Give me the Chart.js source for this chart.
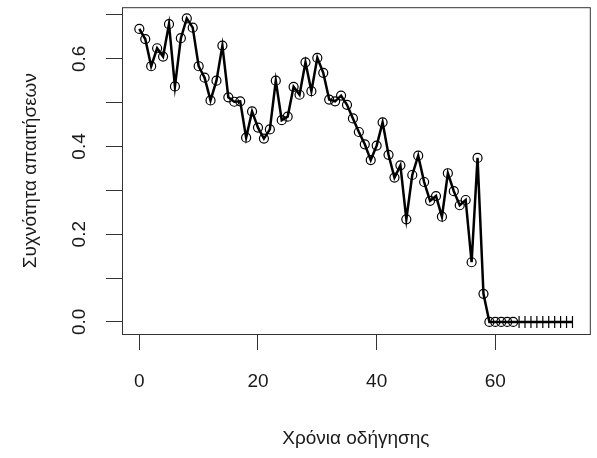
<!DOCTYPE html>
<html>
<head>
<meta charset="utf-8">
<script src="https://cdn.jsdelivr.net/npm/chart.js@4.4.1/dist/chart.umd.min.js"></script>
<style>
  body { margin: 0; background: #fff; }
  #wrap { width: 597px; height: 458px; }
</style>
</head>
<body>
<div id="wrap"><canvas id="plot"></canvas></div>
<script>
// years of driving and claim frequency per year
const years = [
  0, 1, 2, 3, 4, 5, 6, 7, 8, 9, 10, 11, 12, 13, 14, 15, 16, 17, 18, 19,
  20, 21, 22, 23, 24, 25, 26, 27, 28, 29, 30, 31, 32, 33, 34, 35, 36, 37, 38, 39,
  40, 41, 42, 43, 44, 45, 46, 47, 48, 49, 50, 51, 52, 53, 54, 55, 56, 57, 58, 59,
  60, 61, 62, 63, 64, 65, 66, 67, 68, 69, 70, 71, 72, 73
];
const freq = [
  0.668, 0.645, 0.583, 0.624, 0.605, 0.679, 0.537, 0.647, 0.692, 0.671,
  0.583, 0.557, 0.505, 0.550, 0.630, 0.512, 0.502, 0.503, 0.420, 0.480,
  0.443, 0.418, 0.439, 0.550, 0.460, 0.468, 0.536, 0.518, 0.592, 0.526,
  0.602, 0.568, 0.507, 0.503, 0.516, 0.495, 0.464, 0.433, 0.405, 0.369,
  0.402, 0.455, 0.381, 0.329, 0.357, 0.234, 0.335, 0.379, 0.319, 0.276,
  0.287, 0.240, 0.339, 0.298, 0.266, 0.278, 0.136, 0.374, 0.064, 0,
  0, 0, 0, 0, 0, 0, 0, 0, 0, 0,
  0, 0, 0, 0
];
// from year 64 on the marker changes to a bar
const barFrom = 64;

const xTicks = [0, 20, 40, 60];
const yTicks = [0, 0.1, 0.2, 0.3, 0.4, 0.5, 0.6, 0.7];
const yLabels = [0, 0.2, 0.4, 0.6];

const txt = '#1a1a1a';
const fontFamily = '"Liberation Sans", Arial, sans-serif';

const boxAndLabels = {
  id: 'boxAndLabels',
  afterDraw(chart) {
    const { ctx, chartArea: a, scales: { y } } = chart;
    ctx.save();
    ctx.strokeStyle = '#333';
    ctx.lineWidth = 1;
    ctx.strokeRect(a.left + 0.5, a.top + 0.5, a.right - a.left, a.bottom - a.top);

    // vertical y tick labels
    ctx.fillStyle = txt;
    ctx.font = '19px ' + fontFamily;
    ctx.textAlign = 'center';
    ctx.textBaseline = 'middle';
    yLabels.forEach(v => {
      ctx.save();
      ctx.translate(80, y.getPixelForValue(v));
      ctx.rotate(-Math.PI / 2);
      ctx.fillText(v.toFixed(1), 0, 0);
      ctx.restore();
    });
    ctx.restore();
  }
};

new Chart(document.getElementById('plot'), {
  type: 'line',
  data: {
    datasets: [{
      data: years.map((x, i) => ({ x: x, y: freq[i] })),
      borderColor: '#000',
      borderWidth: 2.5,
      backgroundColor: 'transparent',
      pointStyle: years.map(x => x < barFrom ? 'circle' : 'line'),
      pointRotation: years.map(x => x < barFrom ? 0 : 90),
      pointRadius: years.map(x => x < barFrom ? 4.5 : 6),
      pointBorderColor: '#000',
      pointBorderWidth: 1.2,
      pointBackgroundColor: 'transparent',
      tension: 0
    }]
  },
  options: {
    responsive: true,
    maintainAspectRatio: false,
    animation: false,
    layout: { padding: { top: 7, right: 2, left: 0, bottom: 0 } },
    plugins: { legend: { display: false }, tooltip: { enabled: false } },
    scales: {
      x: {
        type: 'linear',
        min: -2.92,
        max: 75.92,
        afterBuildTicks: s => { s.ticks = xTicks.map(v => ({ value: v })); },
        afterFit: s => { s.height = 124; },
        grid: { drawOnChartArea: false, tickLength: 16, tickColor: '#333', lineWidth: 1 },
        border: { display: false },
        ticks: {
          color: txt,
          font: { family: fontFamily, size: 19 },
          padding: 20,
          maxRotation: 0
        },
        title: {
          display: true,
          text: 'Χρόνια οδήγησης',
          color: txt,
          font: { family: fontFamily, size: 19 },
          padding: { top: 0, bottom: 8 }
        }
      },
      y: {
        min: -0.0276,
        max: 0.7176,
        afterBuildTicks: s => { s.ticks = yTicks.map(v => ({ value: v })); },
        afterFit: s => { s.width = 122; },
        grid: { drawOnChartArea: false, tickLength: 16, tickColor: '#333', lineWidth: 1 },
        border: { display: false },
        ticks: { display: false },
        title: {
          display: true,
          text: 'Συχνότητα απαιτήσεων',
          color: txt,
          font: { family: fontFamily, size: 19 },
          padding: { top: 19, bottom: 0 }
        }
      }
    }
  },
  plugins: [boxAndLabels]
});
</script>
</body>
</html>
